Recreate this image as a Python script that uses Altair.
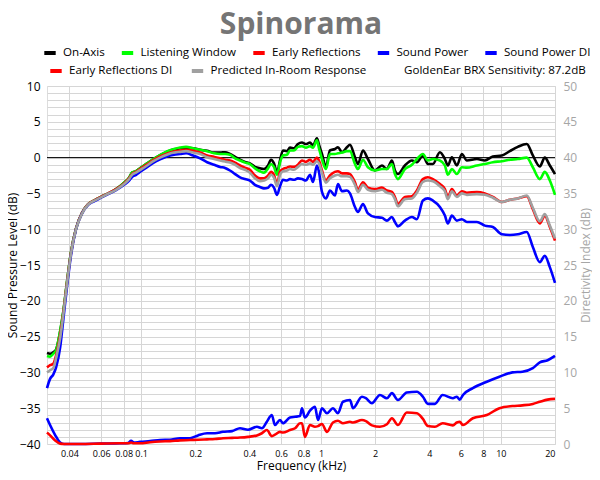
import altair as alt
import pandas as pd

# ---------------- data (frequency in kHz, levels in dB) ----------------
freq = [0.0300, 0.0312, 0.0325, 0.0337, 0.0355, 0.0369, 0.0388, 0.0408, 0.0435, 0.0470,
        0.0508, 0.0548, 0.0599, 0.0656, 0.0726, 0.0805, 0.0858, 0.0891, 0.0938, 0.100,
        0.108, 0.117, 0.1275, 0.139, 0.1525, 0.165, 0.178, 0.1945, 0.213, 0.233,
        0.2545, 0.275, 0.293, 0.312, 0.333, 0.355, 0.378, 0.403, 0.430, 0.458,
        0.482, 0.508, 0.5275, 0.548, 0.570, 0.592, 0.615, 0.647, 0.673, 0.708,
        0.745, 0.784, 0.825, 0.869, 0.903, 0.950, 0.975, 1.013, 1.066, 1.122,
        1.196, 1.243, 1.308, 1.394, 1.450, 1.545, 1.606, 1.712, 1.824, 1.995,
        2.183, 2.326, 2.480, 2.577, 2.678, 2.929, 3.203, 3.415, 3.687, 3.930,
        4.190, 4.583, 4.886, 5.076, 5.342, 5.695, 6.071, 6.474, 7.356, 8.151,
        9.027, 10.13, 11.22, 12.43, 13.94, 15.06, 16.47, 17.55, 18.72, 20.0]

on_axis = [-27.3, -27.4, -27.2, -26.8, -24.3, -21.7, -17.3, -13.2, -9.9, -7.7,
           -6.5, -6.0, -5.5, -5.0, -4.4, -3.5, -2.8, -2.1, -1.9, -1.4,
           -0.8, -0.2, 0.35, 0.8, 1.15, 1.3, 1.4, 1.3, 1.1, 0.95,
           0.7, 0.7, 0.75, 0.5, 0.1, -0.3, -0.6, -0.8, -1.3, -1.5,
           -1.6, -1.1, -0.3, -0.8, -2.1, -0.4, 1.0, 0.9, 1.4, 1.3,
           1.9, 2.1, 1.9, 2.1, 1.7, 2.7, 1.8, 0.5, -1.3, 1.0,
           1.2, 1.45, 0.75, 1.45, 1.8, 0.05, -0.9, 1.0, -0.2, -1.8,
           -1.1, -1.6, -0.4, -1.8, -2.3, -1.1, -0.4, -0.65, 0.3, -0.9,
           -0.9, 0.75, -0.2, -1.1, 0.05, -1.1, 0.5, -0.4, -0.2, -0.4,
           0.15, 0.3, 0.9, 1.5, 1.9, 0.3, -1.25, 0.0, -1.1, -2.3]

listening_window = [-27.7, -27.8, -27.4, -26.9, -24.2, -21.6, -17.2, -13.2, -9.9, -7.7,
                    -6.5, -6.0, -5.5, -5.0, -4.4, -3.5, -2.8, -2.1, -1.9, -1.4,
                    -0.8, -0.2, 0.35, 0.85, 1.2, 1.4, 1.5, 1.3, 1.1, 0.9,
                    0.6, 0.5, 0.5, 0.4, -0.1, -0.4, -0.7, -0.9, -1.5, -1.9,
                    -2.1, -1.5, -0.9, -1.3, -2.4, -0.7, 0.3, 0.4, 1.0, 1.0,
                    1.5, 1.6, 1.4, 1.6, 1.4, 2.4, 1.3, -0.2, -1.6, 0.5,
                    0.5, 0.6, 0.7, 0.9, 0.9, -0.9, -1.6, -0.3, -1.35, -1.8,
                    -1.6, -1.6, -0.9, -2.3, -3.0, -1.6, -1.0, -0.2, 0.5, -0.4,
                    -0.2, -0.4, -1.1, -2.4, -1.6, -2.3, -1.35, -1.4, -1.1, -0.9,
                    -0.65, -0.5, -0.3, -0.2, 0.0, -1.35, -3.0, -2.0, -3.2, -5.2]

early_reflections = [-29.3, -29.0, -28.8, -27.6, -24.8, -21.9, -17.4, -13.3, -9.9, -7.7,
                     -6.5, -6.0, -5.5, -5.0, -4.4, -3.6, -2.9, -2.3, -2.0, -1.5,
                     -0.95, -0.35, 0.15, 0.55, 0.85, 1.0, 1.1, 0.95, 0.7, 0.3,
                     0.1, -0.1, -0.3, -0.4, -0.7, -1.1, -1.4, -1.7, -2.5, -2.9,
                     -2.9, -2.5, -2.0, -2.4, -3.7, -2.0, -1.6, -1.4, -1.25, -1.3,
                     -1.0, -0.4, -0.6, -0.3, -0.6, 0.0, -0.4, -1.8, -3.2, -2.5,
                     -2.0, -1.9, -2.2, -2.2, -2.3, -3.45, -4.5, -3.45, -4.2, -4.4,
                     -4.2, -4.6, -4.8, -5.5, -6.5, -5.5, -5.4, -4.6, -3.0, -2.75,
                     -3.0, -3.7, -4.4, -5.5, -4.4, -5.3, -4.7, -4.9, -4.8, -5.0,
                     -5.5, -6.2, -5.9, -5.7, -5.4, -7.2, -9.2, -8.1, -9.7, -11.6]

sound_power = [-32.2, -30.9, -30.3, -29.3, -26.5, -22.8, -17.9, -13.6, -10.0, -7.8,
               -6.6, -6.1, -5.6, -5.1, -4.55, -3.8, -3.2, -2.7, -2.4, -1.9,
               -1.35, -0.75, -0.25, 0.15, 0.4, 0.5, 0.6, 0.3, -0.1, -0.65,
               -1.0, -1.3, -1.45, -1.8, -2.3, -2.75, -3.0, -3.2, -3.8, -4.1,
               -4.3, -4.2, -3.8, -4.2, -5.2, -4.0, -3.1, -3.2, -3.0, -3.1,
               -2.9, -3.0, -3.2, -2.4, -3.4, -1.1, -2.0, -4.8, -5.7, -4.6,
               -5.3, -3.7, -4.7, -4.6, -5.0, -6.9, -7.6, -6.5, -7.8, -8.3,
               -8.4, -8.8, -8.3, -9.0, -9.6, -8.8, -8.3, -8.6, -6.0, -5.7,
               -6.0, -6.9, -8.1, -9.2, -8.1, -8.8, -8.6, -9.0, -9.0, -9.5,
               -9.7, -10.7, -10.8, -10.7, -10.4, -12.5, -14.6, -13.7, -15.3, -17.5]

predicted_in_room = [-30.0, -29.7, -29.4, -28.0, -25.2, -22.1, -17.5, -13.4, -10.0, -7.8,
                     -6.55, -6.05, -5.55, -5.05, -4.5, -3.7, -3.0, -2.4, -2.1, -1.65,
                     -1.1, -0.5, 0.0, 0.4, 0.7, 0.8, 0.9, 0.7, 0.5, 0.05,
                     -0.2, -0.4, -0.55, -0.7, -1.0, -1.45, -1.7, -2.1, -2.9, -3.3,
                     -3.2, -2.9, -2.4, -2.8, -4.0, -2.4, -1.9, -1.8, -1.6, -1.7,
                     -1.3, -0.9, -1.0, -0.8, -1.0, -0.5, -0.8, -2.1, -3.5, -2.9,
                     -2.5, -2.4, -2.6, -2.6, -2.7, -3.8, -4.8, -3.8, -4.5, -4.7,
                     -4.5, -4.9, -5.1, -5.8, -6.8, -5.8, -5.7, -4.9, -3.4, -3.2,
                     -3.3, -4.0, -4.7, -5.8, -4.7, -5.5, -5.0, -5.2, -5.1, -5.2,
                     -5.6, -6.2, -5.9, -5.7, -5.3, -7.0, -8.9, -7.9, -9.5, -11.3]

di_freq = [0.0300, 0.0312, 0.0333, 0.0355, 0.0373, 0.0458, 0.0592, 0.0764, 0.0847, 0.0880,
           0.0914, 0.0987, 0.1122, 0.1275, 0.1449, 0.1647, 0.1871, 0.2072, 0.2326, 0.2576,
           0.2852, 0.3204, 0.3548, 0.3929, 0.4406, 0.4694, 0.5003, 0.5334, 0.5548, 0.5919,
           0.6151, 0.6727, 0.7181, 0.7650, 0.7841, 0.8149, 0.8686, 0.9261, 0.9627, 1.013,
           1.080, 1.166, 1.243, 1.325, 1.450, 1.508, 1.690, 1.778, 1.920, 2.127,
           2.326, 2.480, 2.678, 3.001, 3.415, 3.687, 3.930, 4.300, 4.747, 5.412,
           5.695, 5.912, 6.157, 6.985, 8.357, 9.821, 11.60, 13.18, 15.06, 16.47,
           18.21, 20.0]

sound_power_di = [3.6, 2.65, 1.25, 0.2, 0.0, 0.0, 0.05, 0.1, 0.15, 0.45,
                  0.2, 0.3, 0.4, 0.55, 0.6, 0.8, 0.8, 1.2, 1.5, 1.5,
                  1.7, 1.8, 2.2, 2.0, 2.4, 2.2, 3.1, 4.05, 2.65, 3.35,
                  2.9, 3.7, 3.8, 3.9, 5.0, 3.7, 4.65, 5.2, 3.35, 5.0,
                  4.3, 5.0, 4.3, 5.9, 6.15, 5.0, 6.6, 6.4, 5.7, 6.85,
                  6.4, 7.1, 6.15, 7.2, 7.3, 6.6, 5.6, 5.6, 6.85, 6.4,
                  6.6, 6.2, 6.85, 7.8, 8.7, 9.4, 10.0, 10.1, 10.6, 11.4,
                  11.7, 12.3]

early_reflections_di = [1.6, 1.2, 0.5, 0.05, 0.0, 0.0, 0.05, 0.1, 0.1, 0.2,
                        0.1, 0.1, 0.25, 0.35, 0.4, 0.5, 0.55, 0.6, 0.65, 0.7,
                        0.8, 0.85, 0.9, 1.0, 1.2, 1.5, 1.95, 1.1, 1.3, 1.7,
                        1.6, 1.95, 2.2, 2.9, 2.9, 1.0, 2.65, 2.4, 2.5, 2.8,
                        1.7, 3.0, 3.25, 2.9, 3.1, 3.0, 3.35, 3.2, 2.6, 2.4,
                        2.75, 3.6, 2.65, 4.4, 4.3, 3.5, 2.5, 2.4, 2.9, 2.6,
                        3.0, 3.1, 2.65, 3.6, 4.05, 5.0, 5.3, 5.4, 5.6, 5.9,
                        6.2, 6.3]

x_ticks = [0.04, 0.06, 0.08, 0.1, 0.2, 0.4, 0.6, 0.8, 1, 2, 4, 6, 8, 10, 20]

row1_names = ["On-Axis", "Listening Window", "Early Reflections", "Sound Power",
              "Sound Power DI"]
row1_colors = ["#000000", "#00ff00", "#ff0000", "#0000ff", "#0000ff"]
row2_names = ["Early Reflections DI", "Predicted In-Room Response",
              "GoldenEar BRX Sensitivity: 87.2dB"]
row2_colors = ["#ff0000", "#a0a0a0", "transparent"]

FONT = "Open Sans"
GRID = "#d6d6d6"

# ---------------- encodings ----------------
x_enc = alt.X("freq:Q",
              scale=alt.Scale(type="log", domain=[0.03, 20], nice=False),
              axis=alt.Axis(values=x_ticks, format="~g", title="Frequency (kHz)",
                            grid=True, gridColor=GRID, ticks=False, domain=False,
                            labelFontSize=9, labelPadding=5, labelColor="#000000",
                            labelFont=FONT, titleFont=FONT, titleFontSize=12,
                            titleFontWeight="normal", titleColor="#000000",
                            titleY=25, titleBaseline="alphabetic",
                            labelOverlap=False))


def legend_params(x, y, pad):
    return alt.Legend(orient="none", legendX=x, legendY=y,
                      direction="horizontal", columns=5, title=None,
                      symbolType="stroke", symbolStrokeWidth=4,
                      symbolSize=130, labelFontSize=11.6, labelFont=FONT,
                      labelColor="#000000", labelOffset=5, columnPadding=pad,
                      padding=0, labelLimit=300)


color_enc = alt.Color("series:N",
                      scale=alt.Scale(domain=row1_names, range=row1_colors),
                      sort=row1_names, legend=legend_params(-5, -41, 8.5))
stroke_enc = alt.Stroke("series:N",
                        scale=alt.Scale(domain=row2_names, range=row2_colors),
                        sort=row2_names, legend=legend_params(1, -23, 10.5))

y_left = alt.Y("db:Q",
               scale=alt.Scale(domain=[-40, 10], nice=False, zero=False),
               axis=alt.Axis(values=list(range(-40, 11)),
                             labelExpr="datum.value % 5 == 0 ? datum.label : ''",
                             title="Sound Pressure Level (dB)", grid=True,
                             gridColor=GRID, ticks=False, domain=False,
                             labelOverlap=False, labelFontSize=12, labelFont=FONT,
                             labelColor="#000000", labelPadding=7,
                             titleFont=FONT, titleFontSize=12,
                             titleFontWeight="normal", titleColor="#000000",
                             titleX=-35, titleY=179, titleAlign="center",
                             titleBaseline="middle", titleAngle=270))

y_right = alt.Y("db:Q",
                scale=alt.Scale(domain=[0, 50], nice=False, zero=False),
                axis=alt.Axis(orient="right", values=list(range(0, 51, 5)),
                              title="Directivity Index (dB)", grid=False,
                              ticks=False, domain=False, labelFontSize=12,
                              labelFont=FONT, labelColor="#a6a6a6",
                              labelPadding=8, titleFont=FONT, titleFontSize=12,
                              titleFontWeight="normal", titleColor="#a6a6a6",
                              titleX=30, titleY=179, titleAlign="center",
                              titleBaseline="middle", titleAngle=270))


def line_layer(name, xs, ys, y_enc, row2=False):
    df = pd.DataFrame({"freq": xs, "db": ys, "series": name})
    enc = dict(x=x_enc, y=y_enc)
    if row2:
        enc["stroke"] = stroke_enc
    else:
        enc["color"] = color_enc
    return alt.Chart(df).mark_line(strokeWidth=2.6, interpolate="monotone").encode(**enc)


zero_rule = alt.Chart(pd.DataFrame({"db": [0]})).mark_rule(
    color="#000000", strokeWidth=1).encode(y=y_left)

left = alt.layer(
    zero_rule,
    line_layer("On-Axis", freq, on_axis, y_left),
    line_layer("Listening Window", freq, listening_window, y_left),
    line_layer("Early Reflections", freq, early_reflections, y_left),
    line_layer("Sound Power", freq, sound_power, y_left),
    line_layer("Predicted In-Room Response", freq, predicted_in_room, y_left, row2=True),
)

right = alt.layer(
    line_layer("Sound Power DI", di_freq, sound_power_di, y_right),
    line_layer("Early Reflections DI", di_freq, early_reflections_di, y_right, row2=True),
)

chart = alt.layer(left, right).resolve_scale(y="independent").properties(
    width=508, height=358,
    title=alt.TitleParams("Spinorama", fontSize=30, font=FONT, fontWeight="bold",
                          color="#757575", anchor="middle", offset=5),
    autosize=alt.AutoSizeParams(type="none"),
    padding={"left": 39, "top": 78, "right": 37, "bottom": 28},
).configure_view(stroke=None).configure(background="#ffffff")

chart.save("out.html", embed_options={"renderer": "svg", "actions": False})
